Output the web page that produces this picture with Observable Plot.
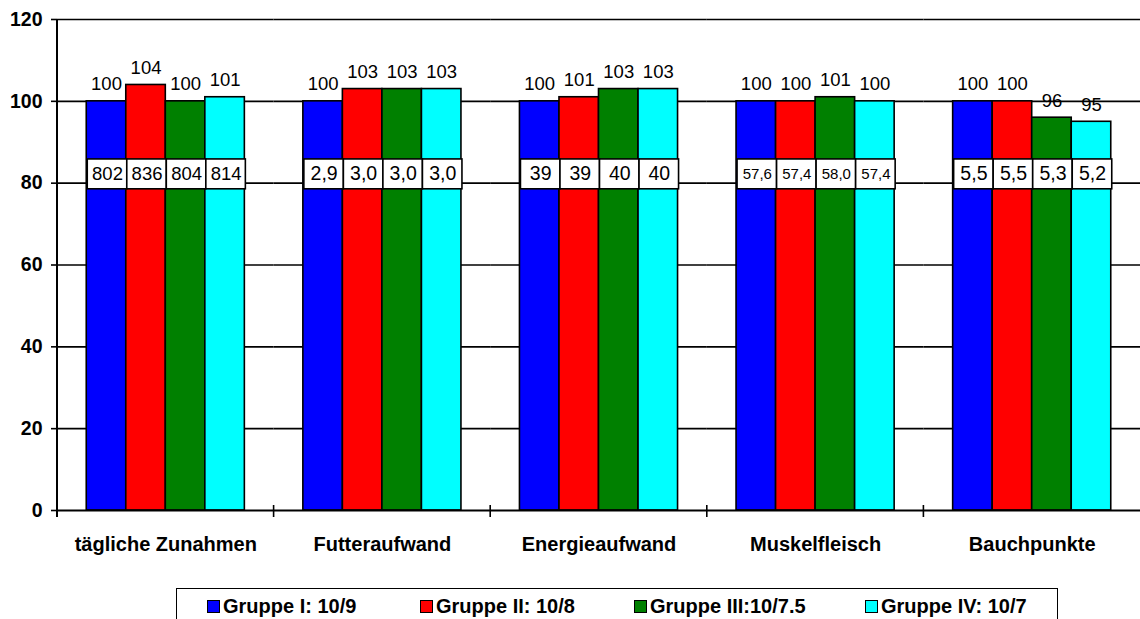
<!DOCTYPE html>
<html><head><meta charset="utf-8">
<script src="https://cdn.jsdelivr.net/npm/d3@7"></script>
<script src="https://cdn.jsdelivr.net/npm/@observablehq/plot@0.6"></script>
<style>
body{margin:0;background:#fff;font-family:Arial,"Liberation Sans",sans-serif;}
#wrap{position:relative;width:1140px;height:619px;overflow:hidden;background:#fff}
#legend{position:absolute;left:176px;top:588px;width:882px;height:45px;border:1.5px solid #000;box-sizing:border-box;}
.item{position:absolute;top:6px;display:flex;align-items:center;font-weight:bold;font-size:20px;line-height:22px;white-space:nowrap}
.sw{width:11px;height:11px;border:1.5px solid #000;margin-right:3px}
</style></head>
<body><div id="wrap"><div id="chart"></div><div id="legend"></div></div>
<script>
const categories = ["tägliche Zunahmen","Futteraufwand","Energieaufwand","Muskelfleisch","Bauchpunkte"];
const groups = ["Gruppe I: 10/9","Gruppe II: 10/8","Gruppe III:10/7.5","Gruppe IV: 10/7"];
const colors = ["#0000ff","#ff0000","#008000","#00ffff"];
const relative = [[100,104,100,101],[100,103,103,103],[100,101,103,103],[100,100,101,100],[100,100,96,95]];
const absolute = [[802,836,804,814],[2.9,3.0,3.0,3.0],[39,39,40,40],[57.6,57.4,58.0,57.4],[5.5,5.5,5.3,5.2]];
const decimals = [0,1,0,1,1];
const yTicks = [0,20,40,60,80,100,120];

const boxFont = [18.5,19.5,19.5,15,19.5];
const rows = [];
categories.forEach((c,i)=>groups.forEach((g,j)=>rows.push({
  cat:c, group:g, ci:i, rel:relative[i][j],
  label: absolute[i][j].toFixed(decimals[i]).replace(".", ",")
})));

const font = "Arial, 'Liberation Sans', sans-serif";
const chart = Plot.plot({
  width:1140, height:588,
  marginLeft:57, marginRight:0, marginTop:19, marginBottom:78,
  style:{fontFamily:font, color:"#000", background:"transparent", overflow:"visible"},
  fx:{domain:categories, padding:0, label:null, round:false},
  x:{domain:groups, axis:null, paddingInner:0, paddingOuter:0.74, round:false},
  y:{domain:[0,120], label:null},
  color:{domain:groups, range:colors},
  marks:[
    Plot.ruleY(yTicks.slice(1), {stroke:"#000", strokeWidth:1.6}),
    Plot.barY(rows, {fx:"cat", x:"group", y:"rel", fill:"group", stroke:"#000", strokeWidth:1.6}),
    Plot.text(rows, {fx:"cat", x:"group", y:"rel", text:d=>String(d.rel), dy:-17, fontSize:18.5, fill:"#000"}),
    Plot.barY(rows, {fx:"cat", x:"group", y1:()=>78.5, y2:()=>85.8, fill:"white", stroke:"#000", strokeWidth:1.6, dx:1}),
    Plot.text(rows, {fx:"cat", x:"group", y:()=>82.2, text:"label", fontSize:d=>boxFont[d.ci], dx:1, fill:"#000"}),
    Plot.ruleY([0], {stroke:"#000", strokeWidth:2.2}),
    Plot.axisY({ticks:yTicks, tickSize:6, tickPadding:9, fontSize:19.5, fontWeight:"bold", tickFormat:d=>String(d), strokeWidth:1.6}),
    Plot.axisFx({anchor:"bottom", tickSize:0, tickPadding:26, fontSize:20, fontWeight:"bold", label:null})
  ]
});
document.getElementById("chart").appendChild(chart);

// axis line and category separators from the fx / y scales
const svg = d3.select(chart);
const fx = chart.scale("fx"), y = chart.scale("y");
const y0 = y.apply(0), yTop = y.apply(120);
const x0 = fx.apply(categories[0]);
svg.append("line").attr("x1",x0).attr("x2",x0).attr("y1",yTop).attr("y2",y0+7)
  .attr("stroke","#000").attr("stroke-width",2);
categories.slice(1).forEach(c=>{
  const xb = fx.apply(c);
  svg.append("line").attr("x1",xb).attr("x2",xb).attr("y1",y0-5).attr("y2",y0+7)
    .attr("stroke","#000").attr("stroke-width",1.6);
});

// legend
const legendX = [30, 243, 457, 688];
const legend = document.getElementById("legend");
groups.forEach((g,j)=>{
  const it = document.createElement("div");
  it.className = "item"; it.style.left = legendX[j]+"px";
  it.innerHTML = `<span class="sw" style="background:${colors[j]}"></span><span>${g}</span>`;
  legend.appendChild(it);
});
</script></body></html>
